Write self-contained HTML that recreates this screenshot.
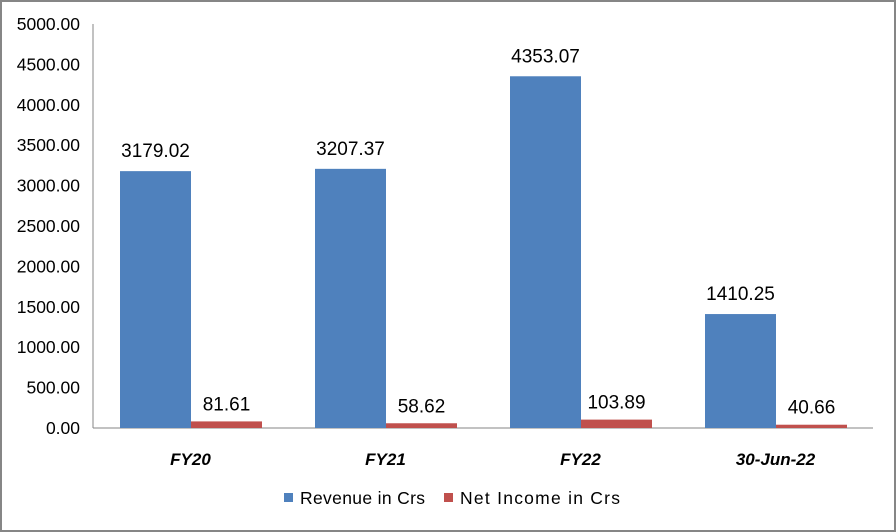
<!DOCTYPE html>
<html><head><meta charset="utf-8"><style>
html,body{margin:0;padding:0;background:#fff}
svg{display:block;font-family:"Liberation Sans",sans-serif}
</style></head><body>
<svg width="896" height="532" viewBox="0 0 896 532">
<rect x="1" y="1" width="894" height="530" fill="#fff" stroke="#868686" stroke-width="2"/>
<g id="grid"></g>
<g id="bars"></g>
<g id="labels"></g>
<g>
<rect x="284" y="493" width="9" height="9" fill="#4f81bd"/>
<text x="300" y="504" font-size="17.5" textLength="125" fill="#000">Revenue in Crs</text>
<rect x="444" y="493" width="9" height="9" fill="#c0504d"/>
<text x="460" y="504" font-size="17.5" textLength="160" fill="#000">Net Income in Crs</text>
</g>
</svg>
<script>
const categories=["FY20","FY21","FY22","30-Jun-22"];
const revenue=[3179.02,3207.37,4353.07,1410.25];
const netIncome=[81.61,58.62,103.89,40.66];
const ticks=[0,500,1000,1500,2000,2500,3000,3500,4000,4500,5000];
const NS="http://www.w3.org/2000/svg";
const x0=93,y0=428,yTop=24,step=195,maxV=5000;
function y(v){return y0-(v/maxV)*(y0-yTop);}
function gx(i){return x0+i*step;}
function mk(t,a,p){const e=document.createElementNS(NS,t);for(const k in a)e.setAttribute(k,a[k]);p.appendChild(e);return e;}
const grid=document.getElementById('grid'),bars=document.getElementById('bars'),labels=document.getElementById('labels');
const ax=mk('line',{x1:x0,y1:yTop,x2:x0,y2:y0,stroke:'#868686','stroke-width':1},grid);


const bx=mk('line',{x1:x0,y1:y0,x2:gx(4),y2:y0,stroke:'#868686','stroke-width':1},grid);


ticks.forEach(t=>{
 const tl=mk('text',{x:80,y:y(t)+6,'text-anchor':'end','font-size':17.5,fill:'#000'},grid);
 tl.textContent=t.toFixed(2);
 
 
});
categories.forEach((c,i)=>{
 const bxs=gx(i)+27,w=71;
 const b1=mk('rect',{x:bxs,y:y(revenue[i]),width:w,height:y0-y(revenue[i]),fill:'#4f81bd'},bars);
 
 
 const b2=mk('rect',{x:bxs+w,y:y(netIncome[i]),width:w,height:y0-y(netIncome[i]),fill:'#c0504d'},bars);
 
 
 const l1=mk('text',{x:bxs+w/2,y:y(revenue[i])-14,'text-anchor':'middle','font-size':19,fill:'#000'},labels);
 l1.textContent=revenue[i].toFixed(2);
 
 
 const l2=mk('text',{x:bxs+w*1.5,y:y(netIncome[i])-11,'text-anchor':'middle','font-size':19,fill:'#000'},labels);
 l2.textContent=netIncome[i].toFixed(2);
 
 
 const cl=mk('text',{x:gx(i)+step/2,y:465,'text-anchor':'middle','font-size':17,'font-weight':'bold','font-style':'italic',fill:'#000'},labels);
 cl.textContent=c;
 
 
});
</script>
</body></html>
